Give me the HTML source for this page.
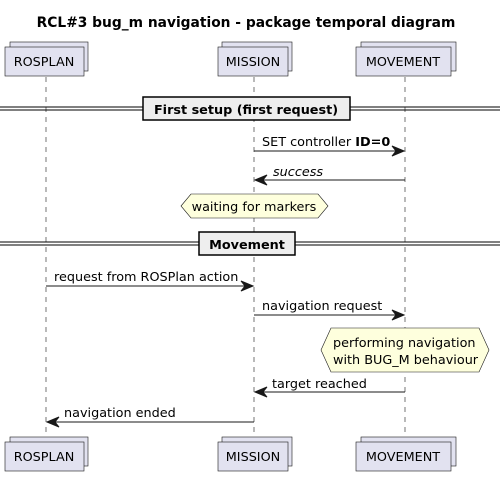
<!DOCTYPE html>
<html><head><style>body{margin:0;background:#fff}svg{display:block}text{font-family:"DejaVu Sans","Liberation Sans",sans-serif;font-size:12.8px;fill:#000}</style></head>
<body>
<svg width="500" height="478" viewBox="0 0 500 478" xmlns="http://www.w3.org/2000/svg">
<text x="246" y="27" text-anchor="middle" font-weight="bold" style="font-size:13.8px">RCL#3 bug_m navigation - package temporal diagram</text>
<g stroke="#181818" stroke-width="0.6" stroke-dasharray="5,5">
<line x1="46" y1="77" x2="46" y2="442"/><line x1="254" y1="77" x2="254" y2="442"/><line x1="405" y1="77" x2="405" y2="442"/>
</g>
<g fill="#E2E2F0" stroke="#181818" stroke-width="0.6">
<rect x="10" y="42" width="78" height="29"/><rect x="5" y="47" width="79" height="29"/>
<rect x="222" y="42" width="70" height="29"/><rect x="218" y="47" width="70" height="29"/>
<rect x="361" y="42" width="95" height="29"/><rect x="356" y="47" width="95" height="29"/>
<rect x="10" y="437" width="78" height="29"/><rect x="5" y="442" width="79" height="29"/>
<rect x="222" y="437" width="70" height="29"/><rect x="218" y="442" width="70" height="29"/>
<rect x="361" y="437" width="95" height="29"/><rect x="356" y="442" width="95" height="29"/>
</g>
<g>
<text x="44" y="66" text-anchor="middle">ROSPLAN</text><text x="253" y="66" text-anchor="middle">MISSION</text><text x="403" y="66" text-anchor="middle">MOVEMENT</text>
<text x="44" y="461" text-anchor="middle">ROSPLAN</text><text x="253" y="461" text-anchor="middle">MISSION</text><text x="403" y="461" text-anchor="middle">MOVEMENT</text>
</g>
<g stroke="#000" stroke-width="1">
<line x1="0" y1="107" x2="500" y2="107"/><line x1="0" y1="110" x2="500" y2="110"/>
<line x1="0" y1="242" x2="500" y2="242"/><line x1="0" y1="245" x2="500" y2="245"/>
</g>
<rect x="143" y="97" width="207" height="23" fill="#EEEEEE" stroke="#000" stroke-width="1.5"/>
<text x="246" y="114" text-anchor="middle" font-weight="bold">First setup (first request)</text>
<rect x="199" y="232" width="96" height="23" fill="#EEEEEE" stroke="#000" stroke-width="1.5"/>
<text x="247" y="249" text-anchor="middle" font-weight="bold">Movement</text>
<g stroke="#181818" stroke-width="1" fill="#181818">
<line x1="254" y1="151" x2="403" y2="151"/><polygon points="404,151 392,146 396,151 392,156"/>
<line x1="256" y1="180" x2="405" y2="180"/><polygon points="255,180 267,175 263,180 267,185"/>
<line x1="46" y1="286" x2="252" y2="286"/><polygon points="253,286 241,281 245,286 241,291"/>
<line x1="254" y1="315" x2="403" y2="315"/><polygon points="404,315 392,310 396,315 392,320"/>
<line x1="256" y1="392" x2="405" y2="392"/><polygon points="255,392 267,387 263,392 267,397"/>
<line x1="48" y1="422" x2="254" y2="422"/><polygon points="47,422 59,417 55,422 59,427"/>
</g>
<text x="262" y="146">SET controller <tspan font-weight="bold">ID=0</tspan></text>
<text x="273" y="176" font-style="italic">success</text>
<text x="54" y="281">request from ROSPlan action</text>
<text x="262" y="310">navigation request</text>
<text x="272" y="388">target reached</text>
<text x="64" y="417">navigation ended</text>
<polygon points="181,206 191,194 318,194 328,206 318,218 191,218" fill="#FEFFDD" stroke="#181818" stroke-width="0.6"/>
<text x="254" y="211" text-anchor="middle">waiting for markers</text>
<polygon points="321,350 331,328 479,328 489,350 479,372 331,372" fill="#FEFFDD" stroke="#181818" stroke-width="0.6"/>
<text x="333" y="347">performing navigation</text>
<text x="333" y="364">with BUG_M behaviour</text>
</svg>
</body></html>
